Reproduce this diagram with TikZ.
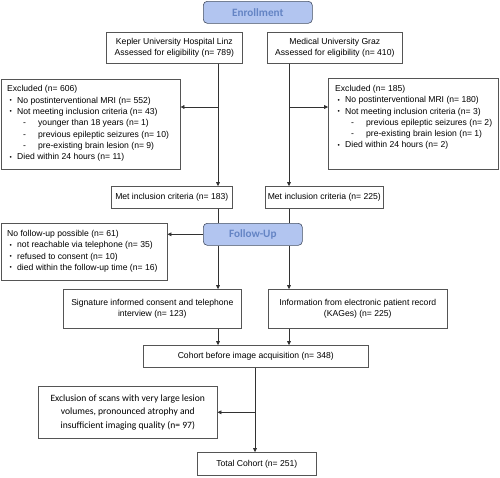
\documentclass[tikz,border=0pt]{standalone}
\usepackage{fontspec}
\usepackage{graphicx}
\setmainfont{Liberation Sans}
\newfontfamily\calfont{Carlito}
\usetikzlibrary{arrows.meta,calc}
\definecolor{hdrfill}{RGB}{178,197,240}
\definecolor{hdrtext}{RGB}{100,132,196}
\definecolor{hdrline}{RGB}{70,80,100}
\definecolor{boxline}{RGB}{85,85,85}
\definecolor{conn}{RGB}{50,50,50}
\newcommand\smbul{\raisebox{0.6pt}{\scalebox{0.75}{\textbullet}}}
\newcommand\bitem[1]{\makebox[10pt][l]{\hspace{2.5pt}\smbul}#1}
\newcommand\ditem[1]{\makebox[31pt][l]{\hspace{16pt}-}#1}
\begin{document}
\begin{tikzpicture}[x=1pt,y=-1pt,
  box/.style={draw=boxline, line width=0.6pt, fill=white, inner sep=0pt, align=center, anchor=north west},
  hdr/.style={draw=hdrline, fill=hdrfill, rounded corners=4pt, text=hdrtext, inner sep=0pt,
    font=\calfont\bfseries\fontsize{11.2}{13}\selectfont, line width=0.6pt, anchor=north west},
  listtext/.style={inner sep=0pt, align=left, anchor=north west},
  carl/.style={font=\calfont\fontsize{9.6}{13.5}\selectfont},
  arr/.style={draw=conn, line width=0.6pt, -{Triangle[length=3.8pt,width=3.8pt]}},
  ln/.style={draw=conn, line width=0.6pt},
  every node/.style={font=\fontsize{8.6}{11.3}\selectfont}]
\useasboundingbox (0,0) rectangle (500,477);

\node[hdr, minimum width=109pt, minimum height=22pt] (enr) at (203,1) {Enrollment};
\node[box, minimum width=136pt, minimum height=31pt] (kep) at (106,32) {Kepler University Hospital Linz\\Assessed for eligibility (n= 789)};
\node[box, minimum width=135pt, minimum height=31pt] (graz) at (267,32) {Medical University Graz\\Assessed for eligibility (n= 410)};

\node[box, minimum width=179pt, minimum height=90pt] (exL) at (1,79) {};
\node[listtext] (exLt) at (7,85.5) {Excluded (n= 606)\\
\bitem{No postinterventional MRI (n= 552)}\\
\bitem{Not meeting inclusion criteria (n= 43)}\\
\ditem{younger than 18 years (n= 1)}\\
\ditem{previous epileptic seizures (n= 10)}\\
\ditem{pre-existing brain lesion (n= 9)}\\
\bitem{Died within 24 hours (n= 11)}};

\node[box, minimum width=170pt, minimum height=91pt] (exR) at (328,78) {};
\node[listtext] (exRt) at (335,85) {Excluded (n= 185)\\
\bitem{No postinterventional MRI (n= 180)}\\
\bitem{Not meeting inclusion criteria (n= 3)}\\
\ditem{previous epileptic seizures (n= 2)}\\
\ditem{pre-existing brain lesion (n= 1)}\\
\bitem{Died within 24 hours (n= 2)}};

\node[box, minimum width=121pt, minimum height=22pt] (metl) at (111,186) {Met inclusion criteria (n= 183)};
\node[box, minimum width=118pt, minimum height=22pt] (metr) at (265,186) {Met inclusion criteria (n= 225)};

\node[hdr, minimum width=99pt, minimum height=22pt] (fu) at (203,223) {Follow-Up};

\node[box, minimum width=166pt, minimum height=57pt] (nofu) at (1,223) {};
\node[listtext] (nofut) at (7,230) {No follow-up possible (n= 61)\\
\bitem{not reachable via telephone (n= 35)}\\
\bitem{refused to consent (n= 10)}\\
\bitem{died within the follow-up time (n= 16)}};

\node[box, minimum width=178pt, minimum height=39pt] (sig) at (63,289) {Signature informed consent and telephone\\interview (n= 123)};
\node[box, minimum width=179pt, minimum height=39pt] (info) at (268,289) {Information from electronic patient record\\(KAGes) (n= 225)};

\node[box, minimum width=225pt, minimum height=22pt] (coh) at (143,345) {Cohort before image acquisition (n= 348)};

\node[box, carl, minimum width=179pt, minimum height=52pt] (excl) at (38,386) {Exclusion of scans with very large lesion\\volumes, pronounced atrophy and\\insufficient imaging quality (n= 97)};

\node[box, minimum width=119pt, minimum height=23pt] (tot) at (197,452) {Total Cohort (n= 251)};

\coordinate (cL) at (218,0);
\coordinate (cR) at (289,0);
\coordinate (cC) at (255,0);
\coordinate (jL) at (218,107);
\coordinate (jR) at (289,107);

\draw[arr] (kep.south -| cL) -- (metl.north -| cL);
\draw[arr] (jL) -- (jL -| exL.east);
\draw[arr] (graz.south -| cR) -- (metr.north -| cR);
\draw[arr] (jR) -- (jR -| exR.west);
\draw[ln] (metl.south -| cL) -- (fu.north -| cL);
\draw[arr] (fu.south -| cL) -- (sig.north -| cL);
\draw[ln] (metr.south -| cR) -- (fu.north -| cR);
\draw[arr] (fu.south -| cR) -- (info.north -| cR);
\draw[arr] (fu.west) -- (fu.west -| nofu.east);
\draw[arr] (sig.south -| cL) -- (coh.north -| cL);
\draw[arr] (info.south -| cR) -- (coh.north -| cR);
\draw[arr] (coh.south -| cC) -- (tot.north -| cC);
\draw[arr] (excl.east -| cC) -- (excl.east);
\end{tikzpicture}
\end{document}
